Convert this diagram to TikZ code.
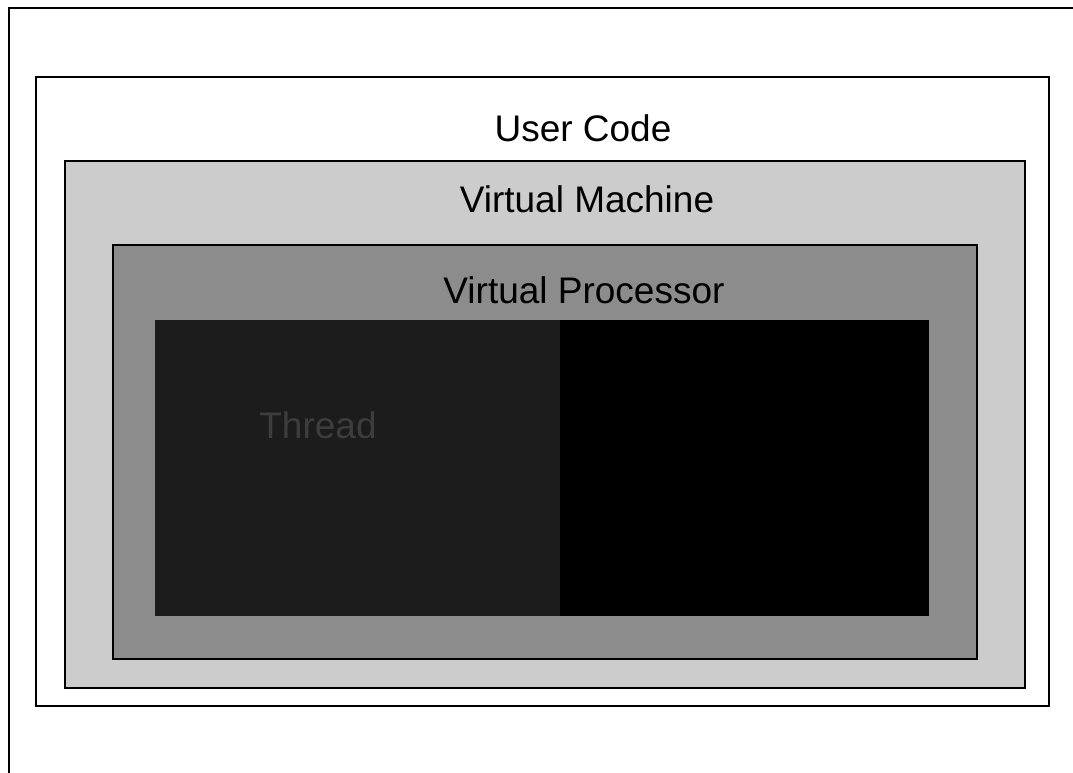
\documentclass[tikz,border=0pt]{standalone}
\usepackage{fontspec}
\setmainfont{Liberation Sans}
\begin{document}
\begin{tikzpicture}[x=1pt,y=-1pt,
  layer/.style={draw=black,line width=2pt},
  caption/.style={font=\fontsize{37}{44}\selectfont,inner sep=0pt,anchor=center},
]
\definecolor{vmgray}{gray}{0.80}
\definecolor{vpgray}{gray}{0.55}
\definecolor{thrgray}{gray}{0.11}
\definecolor{thrtext}{gray}{0.24}
\clip (0,0) rectangle (1073,773);
\useasboundingbox (0,0) rectangle (1073,773);
\fill[white] (0,0) rectangle (1073,773);
% page frame, running off the lower right
\draw[line width=2pt] (9,800) -- (9,8) -- (1100,8);
% nested layers
\draw[layer,fill=white]  (36,77)   rectangle (1049,706);
\draw[layer,fill=vmgray] (65,161)  rectangle (1025,688);
\draw[layer,fill=vpgray] (113,245) rectangle (977,659);
\fill[thrgray] (155,320) rectangle (560,616);
\fill[black]   (560,320) rectangle (929,616);
% labels
\node[caption] (uc)  at (583,128) {User Code};
\node[caption] (vm)  at (587,199) {Virtual Machine};
\node[caption] (vp)  at (584,290) {Virtual Processor};
\node[caption,text=thrtext] (thr) at (318,425) {Thread};
\end{tikzpicture}
\end{document}
